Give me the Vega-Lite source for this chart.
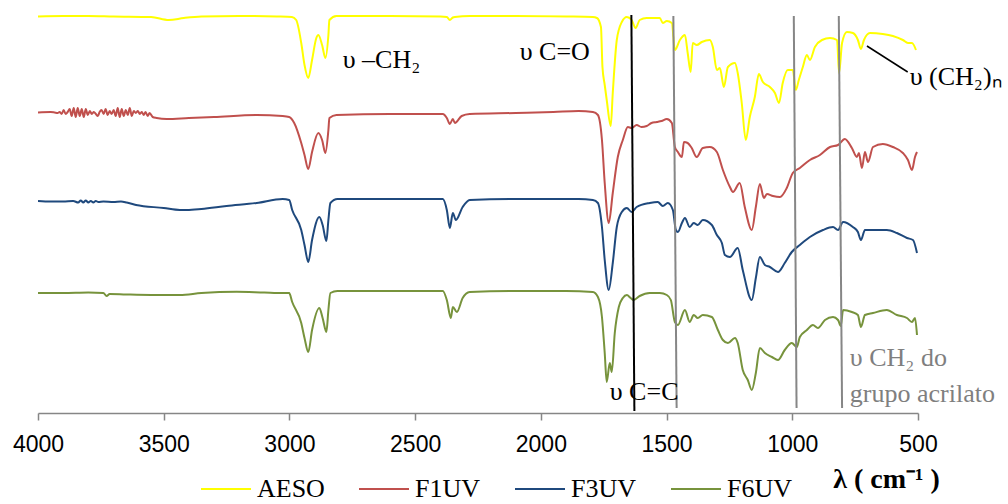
{
  "$schema": "https://vega.github.io/schema/vega-lite/v6.json",
  "width": 880,
  "height": 413,
  "autosize": "none",
  "padding": {"left": 38, "top": 0, "right": 90, "bottom": 91},
  "config": {"view": {"stroke": null}},
  "layer": [
    {
      "data": {"values": [
        {"s":"AESO","x":4000,"y":396.5},{"s":"AESO","x":3900,"y":397},{"s":"AESO","x":3800,"y":397},{"s":"AESO","x":3700,"y":396.5},{"s":"AESO","x":3550,"y":396},{"s":"AESO","x":3480,"y":393},{"s":"AESO","x":3420,"y":395},{"s":"AESO","x":3350,"y":396.5},{"s":"AESO","x":3200,"y":397},{"s":"AESO","x":3050,"y":396.5},{"s":"AESO","x":2990,"y":396},{"s":"AESO","x":2973,"y":393},{"s":"AESO","x":2953,"y":370},{"s":"AESO","x":2940,"y":348},{"s":"AESO","x":2925,"y":335},{"s":"AESO","x":2910,"y":353},{"s":"AESO","x":2893,"y":375},{"s":"AESO","x":2885,"y":378},{"s":"AESO","x":2870,"y":368},{"s":"AESO","x":2857,"y":355},{"s":"AESO","x":2845,"y":378},{"s":"AESO","x":2841,"y":393},{"s":"AESO","x":2813,"y":397},{"s":"AESO","x":2600,"y":397},{"s":"AESO","x":2400,"y":396.5},{"s":"AESO","x":2374,"y":396},{"s":"AESO","x":2362,"y":393},{"s":"AESO","x":2350,"y":395.5},{"s":"AESO","x":2342,"y":396},{"s":"AESO","x":2283,"y":397},{"s":"AESO","x":2100,"y":397},{"s":"AESO","x":1900,"y":396.5},{"s":"AESO","x":1793,"y":396},{"s":"AESO","x":1777,"y":395},{"s":"AESO","x":1761,"y":386},{"s":"AESO","x":1755,"y":346},{"s":"AESO","x":1746,"y":328},{"s":"AESO","x":1738,"y":313},{"s":"AESO","x":1722,"y":287},{"s":"AESO","x":1714,"y":320},{"s":"AESO","x":1698,"y":373},{"s":"AESO","x":1678,"y":391},{"s":"AESO","x":1658,"y":396},{"s":"AESO","x":1639,"y":393},{"s":"AESO","x":1623,"y":385},{"s":"AESO","x":1607,"y":393},{"s":"AESO","x":1579,"y":395},{"s":"AESO","x":1527,"y":395},{"s":"AESO","x":1515,"y":390},{"s":"AESO","x":1499,"y":392},{"s":"AESO","x":1479,"y":390},{"s":"AESO","x":1467,"y":363},{"s":"AESO","x":1447,"y":373},{"s":"AESO","x":1427,"y":378},{"s":"AESO","x":1416,"y":360},{"s":"AESO","x":1404,"y":341},{"s":"AESO","x":1396,"y":370},{"s":"AESO","x":1380,"y":368},{"s":"AESO","x":1360,"y":371},{"s":"AESO","x":1328,"y":373},{"s":"AESO","x":1316,"y":366},{"s":"AESO","x":1300,"y":343},{"s":"AESO","x":1288,"y":345},{"s":"AESO","x":1272,"y":326},{"s":"AESO","x":1256,"y":346},{"s":"AESO","x":1228,"y":350},{"s":"AESO","x":1217,"y":340},{"s":"AESO","x":1201,"y":310},{"s":"AESO","x":1185,"y":273},{"s":"AESO","x":1169,"y":296},{"s":"AESO","x":1149,"y":316},{"s":"AESO","x":1133,"y":339},{"s":"AESO","x":1117,"y":331},{"s":"AESO","x":1089,"y":326},{"s":"AESO","x":1069,"y":320},{"s":"AESO","x":1053,"y":310},{"s":"AESO","x":1038,"y":330},{"s":"AESO","x":1018,"y":343},{"s":"AESO","x":998,"y":343},{"s":"AESO","x":986,"y":323},{"s":"AESO","x":974,"y":333},{"s":"AESO","x":958,"y":346},{"s":"AESO","x":942,"y":358},{"s":"AESO","x":930,"y":353},{"s":"AESO","x":910,"y":366},{"s":"AESO","x":882,"y":373},{"s":"AESO","x":850,"y":375},{"s":"AESO","x":822,"y":373},{"s":"AESO","x":814,"y":340},{"s":"AESO","x":802,"y":370},{"s":"AESO","x":783,"y":381},{"s":"AESO","x":759,"y":380},{"s":"AESO","x":739,"y":373},{"s":"AESO","x":727,"y":364},{"s":"AESO","x":715,"y":373},{"s":"AESO","x":691,"y":380},{"s":"AESO","x":640,"y":379},{"s":"AESO","x":600,"y":377},{"s":"AESO","x":560,"y":373},{"s":"AESO","x":540,"y":370},{"s":"AESO","x":524,"y":370},{"s":"AESO","x":508,"y":363},

        {"s":"F1UV","x":4000,"y":300.5},{"s":"F1UV","x":3950,"y":301},{"s":"F1UV","x":3934,"y":300.5},{"s":"F1UV","x":3922,"y":300},{"s":"F1UV","x":3914,"y":301},{"s":"F1UV","x":3906,"y":299},{"s":"F1UV","x":3898,"y":303},{"s":"F1UV","x":3890,"y":299},{"s":"F1UV","x":3882,"y":301},{"s":"F1UV","x":3874,"y":304},{"s":"F1UV","x":3866,"y":297},{"s":"F1UV","x":3858,"y":305},{"s":"F1UV","x":3850,"y":296},{"s":"F1UV","x":3842,"y":305},{"s":"F1UV","x":3834,"y":297},{"s":"F1UV","x":3826,"y":304},{"s":"F1UV","x":3818,"y":296},{"s":"F1UV","x":3810,"y":304},{"s":"F1UV","x":3802,"y":298},{"s":"F1UV","x":3794,"y":302},{"s":"F1UV","x":3786,"y":299},{"s":"F1UV","x":3778,"y":301},{"s":"F1UV","x":3770,"y":299},{"s":"F1UV","x":3762,"y":297},{"s":"F1UV","x":3755,"y":301},{"s":"F1UV","x":3747,"y":303},{"s":"F1UV","x":3739,"y":299},{"s":"F1UV","x":3731,"y":304},{"s":"F1UV","x":3723,"y":298},{"s":"F1UV","x":3715,"y":302},{"s":"F1UV","x":3707,"y":299},{"s":"F1UV","x":3699,"y":303},{"s":"F1UV","x":3691,"y":297},{"s":"F1UV","x":3683,"y":305},{"s":"F1UV","x":3675,"y":296},{"s":"F1UV","x":3667,"y":304},{"s":"F1UV","x":3659,"y":297},{"s":"F1UV","x":3651,"y":303},{"s":"F1UV","x":3643,"y":298},{"s":"F1UV","x":3635,"y":305},{"s":"F1UV","x":3627,"y":297},{"s":"F1UV","x":3619,"y":302},{"s":"F1UV","x":3611,"y":300},{"s":"F1UV","x":3603,"y":302},{"s":"F1UV","x":3595,"y":299},{"s":"F1UV","x":3587,"y":301},{"s":"F1UV","x":3580,"y":298},{"s":"F1UV","x":3572,"y":301},{"s":"F1UV","x":3564,"y":297},{"s":"F1UV","x":3556,"y":300},{"s":"F1UV","x":3544,"y":296},{"s":"F1UV","x":3528,"y":295},{"s":"F1UV","x":3488,"y":294},{"s":"F1UV","x":3400,"y":295},{"s":"F1UV","x":3300,"y":296},{"s":"F1UV","x":3130,"y":298},{"s":"F1UV","x":3027,"y":297},{"s":"F1UV","x":3001,"y":296},{"s":"F1UV","x":2981,"y":290},{"s":"F1UV","x":2953,"y":270},{"s":"F1UV","x":2940,"y":258},{"s":"F1UV","x":2925,"y":244},{"s":"F1UV","x":2910,"y":261},{"s":"F1UV","x":2885,"y":280},{"s":"F1UV","x":2870,"y":273},{"s":"F1UV","x":2857,"y":260},{"s":"F1UV","x":2845,"y":283},{"s":"F1UV","x":2841,"y":295},{"s":"F1UV","x":2813,"y":298},{"s":"F1UV","x":2600,"y":299},{"s":"F1UV","x":2390,"y":299},{"s":"F1UV","x":2374,"y":295},{"s":"F1UV","x":2362,"y":289},{"s":"F1UV","x":2350,"y":294},{"s":"F1UV","x":2342,"y":290},{"s":"F1UV","x":2315,"y":297},{"s":"F1UV","x":2283,"y":299},{"s":"F1UV","x":2100,"y":300},{"s":"F1UV","x":1950,"y":301},{"s":"F1UV","x":1850,"y":302},{"s":"F1UV","x":1793,"y":301},{"s":"F1UV","x":1773,"y":298},{"s":"F1UV","x":1757,"y":273},{"s":"F1UV","x":1746,"y":230},{"s":"F1UV","x":1730,"y":190},{"s":"F1UV","x":1714,"y":220},{"s":"F1UV","x":1694,"y":256},{"s":"F1UV","x":1674,"y":273},{"s":"F1UV","x":1654,"y":286},{"s":"F1UV","x":1639,"y":285},{"s":"F1UV","x":1619,"y":288},{"s":"F1UV","x":1600,"y":286},{"s":"F1UV","x":1579,"y":287},{"s":"F1UV","x":1560,"y":290},{"s":"F1UV","x":1539,"y":291},{"s":"F1UV","x":1520,"y":292},{"s":"F1UV","x":1499,"y":294},{"s":"F1UV","x":1479,"y":290},{"s":"F1UV","x":1467,"y":266},{"s":"F1UV","x":1455,"y":261},{"s":"F1UV","x":1439,"y":256},{"s":"F1UV","x":1431,"y":271},{"s":"F1UV","x":1416,"y":270},{"s":"F1UV","x":1400,"y":265},{"s":"F1UV","x":1380,"y":256},{"s":"F1UV","x":1356,"y":265},{"s":"F1UV","x":1328,"y":266},{"s":"F1UV","x":1300,"y":261},{"s":"F1UV","x":1276,"y":243},{"s":"F1UV","x":1248,"y":226},{"s":"F1UV","x":1236,"y":221},{"s":"F1UV","x":1209,"y":230},{"s":"F1UV","x":1189,"y":206},{"s":"F1UV","x":1161,"y":183},{"s":"F1UV","x":1145,"y":206},{"s":"F1UV","x":1129,"y":229},{"s":"F1UV","x":1113,"y":215},{"s":"F1UV","x":1101,"y":219},{"s":"F1UV","x":1077,"y":217},{"s":"F1UV","x":1049,"y":216},{"s":"F1UV","x":1022,"y":225},{"s":"F1UV","x":998,"y":240},{"s":"F1UV","x":970,"y":245},{"s":"F1UV","x":930,"y":253},{"s":"F1UV","x":890,"y":258},{"s":"F1UV","x":850,"y":266},{"s":"F1UV","x":818,"y":268},{"s":"F1UV","x":791,"y":274},{"s":"F1UV","x":763,"y":265},{"s":"F1UV","x":743,"y":256},{"s":"F1UV","x":735,"y":260},{"s":"F1UV","x":723,"y":245},{"s":"F1UV","x":711,"y":261},{"s":"F1UV","x":699,"y":251},{"s":"F1UV","x":679,"y":266},{"s":"F1UV","x":640,"y":269},{"s":"F1UV","x":600,"y":266},{"s":"F1UV","x":560,"y":260},{"s":"F1UV","x":540,"y":253},{"s":"F1UV","x":524,"y":243},{"s":"F1UV","x":512,"y":256},{"s":"F1UV","x":504,"y":261},

        {"s":"F3UV","x":4000,"y":212},{"s":"F3UV","x":3950,"y":211.5},{"s":"F3UV","x":3900,"y":211.5},{"s":"F3UV","x":3860,"y":212},{"s":"F3UV","x":3840,"y":210.5},{"s":"F3UV","x":3830,"y":212.5},{"s":"F3UV","x":3820,"y":210.5},{"s":"F3UV","x":3810,"y":212.5},{"s":"F3UV","x":3800,"y":210.5},{"s":"F3UV","x":3790,"y":212},{"s":"F3UV","x":3780,"y":210.5},{"s":"F3UV","x":3770,"y":212},{"s":"F3UV","x":3760,"y":211},{"s":"F3UV","x":3740,"y":211.5},{"s":"F3UV","x":3700,"y":211},{"s":"F3UV","x":3670,"y":211.5},{"s":"F3UV","x":3647,"y":210.5},{"s":"F3UV","x":3610,"y":208},{"s":"F3UV","x":3500,"y":205},{"s":"F3UV","x":3436,"y":203},{"s":"F3UV","x":3408,"y":203},{"s":"F3UV","x":3350,"y":204},{"s":"F3UV","x":3250,"y":207},{"s":"F3UV","x":3130,"y":210},{"s":"F3UV","x":3027,"y":214},{"s":"F3UV","x":3001,"y":213},{"s":"F3UV","x":2989,"y":203},{"s":"F3UV","x":2953,"y":183},{"s":"F3UV","x":2940,"y":168},{"s":"F3UV","x":2925,"y":151},{"s":"F3UV","x":2910,"y":173},{"s":"F3UV","x":2881,"y":196},{"s":"F3UV","x":2868,"y":188},{"s":"F3UV","x":2853,"y":172},{"s":"F3UV","x":2845,"y":193},{"s":"F3UV","x":2837,"y":210},{"s":"F3UV","x":2809,"y":214},{"s":"F3UV","x":2390,"y":214},{"s":"F3UV","x":2374,"y":203},{"s":"F3UV","x":2362,"y":185},{"s":"F3UV","x":2350,"y":200},{"s":"F3UV","x":2338,"y":193},{"s":"F3UV","x":2311,"y":206},{"s":"F3UV","x":2283,"y":213},{"s":"F3UV","x":2100,"y":214},{"s":"F3UV","x":1950,"y":214},{"s":"F3UV","x":1850,"y":214},{"s":"F3UV","x":1793,"y":213},{"s":"F3UV","x":1773,"y":210},{"s":"F3UV","x":1757,"y":186},{"s":"F3UV","x":1746,"y":153},{"s":"F3UV","x":1730,"y":123},{"s":"F3UV","x":1714,"y":150},{"s":"F3UV","x":1698,"y":186},{"s":"F3UV","x":1678,"y":201},{"s":"F3UV","x":1658,"y":205},{"s":"F3UV","x":1639,"y":201},{"s":"F3UV","x":1619,"y":206},{"s":"F3UV","x":1567,"y":210},{"s":"F3UV","x":1535,"y":211},{"s":"F3UV","x":1515,"y":207},{"s":"F3UV","x":1495,"y":210},{"s":"F3UV","x":1475,"y":203},{"s":"F3UV","x":1463,"y":183},{"s":"F3UV","x":1455,"y":181},{"s":"F3UV","x":1439,"y":190},{"s":"F3UV","x":1427,"y":195},{"s":"F3UV","x":1408,"y":186},{"s":"F3UV","x":1392,"y":190},{"s":"F3UV","x":1376,"y":188},{"s":"F3UV","x":1356,"y":193},{"s":"F3UV","x":1320,"y":188},{"s":"F3UV","x":1300,"y":178},{"s":"F3UV","x":1280,"y":170},{"s":"F3UV","x":1268,"y":158},{"s":"F3UV","x":1248,"y":156},{"s":"F3UV","x":1217,"y":165},{"s":"F3UV","x":1197,"y":143},{"s":"F3UV","x":1161,"y":113},{"s":"F3UV","x":1145,"y":135},{"s":"F3UV","x":1129,"y":156},{"s":"F3UV","x":1109,"y":148},{"s":"F3UV","x":1089,"y":146},{"s":"F3UV","x":1057,"y":141},{"s":"F3UV","x":1030,"y":150},{"s":"F3UV","x":1002,"y":161},{"s":"F3UV","x":970,"y":168},{"s":"F3UV","x":930,"y":176},{"s":"F3UV","x":878,"y":183},{"s":"F3UV","x":838,"y":186},{"s":"F3UV","x":818,"y":183},{"s":"F3UV","x":798,"y":191},{"s":"F3UV","x":759,"y":186},{"s":"F3UV","x":739,"y":181},{"s":"F3UV","x":727,"y":173},{"s":"F3UV","x":711,"y":183},{"s":"F3UV","x":663,"y":183},{"s":"F3UV","x":624,"y":183},{"s":"F3UV","x":584,"y":180},{"s":"F3UV","x":544,"y":175},{"s":"F3UV","x":520,"y":173},{"s":"F3UV","x":504,"y":160},

        {"s":"F6UV","x":4000,"y":120},{"s":"F6UV","x":3900,"y":120},{"s":"F6UV","x":3800,"y":120.5},{"s":"F6UV","x":3740,"y":120},{"s":"F6UV","x":3727,"y":117},{"s":"F6UV","x":3715,"y":119},{"s":"F6UV","x":3650,"y":118.5},{"s":"F6UV","x":3550,"y":118},{"s":"F6UV","x":3436,"y":118},{"s":"F6UV","x":3350,"y":120},{"s":"F6UV","x":3210,"y":121.3},{"s":"F6UV","x":3100,"y":120.5},{"s":"F6UV","x":3027,"y":120},{"s":"F6UV","x":3001,"y":120},{"s":"F6UV","x":2989,"y":111},{"s":"F6UV","x":2953,"y":90},{"s":"F6UV","x":2940,"y":75},{"s":"F6UV","x":2925,"y":61},{"s":"F6UV","x":2910,"y":83},{"s":"F6UV","x":2881,"y":105},{"s":"F6UV","x":2868,"y":95},{"s":"F6UV","x":2853,"y":81},{"s":"F6UV","x":2845,"y":103},{"s":"F6UV","x":2837,"y":120},{"s":"F6UV","x":2809,"y":122},{"s":"F6UV","x":2390,"y":122},{"s":"F6UV","x":2374,"y":113},{"s":"F6UV","x":2358,"y":95},{"s":"F6UV","x":2350,"y":106},{"s":"F6UV","x":2334,"y":101},{"s":"F6UV","x":2311,"y":115},{"s":"F6UV","x":2283,"y":121},{"s":"F6UV","x":2100,"y":122},{"s":"F6UV","x":1900,"y":122},{"s":"F6UV","x":1793,"y":121},{"s":"F6UV","x":1773,"y":116},{"s":"F6UV","x":1757,"y":96},{"s":"F6UV","x":1746,"y":60},{"s":"F6UV","x":1738,"y":31},{"s":"F6UV","x":1726,"y":50},{"s":"F6UV","x":1718,"y":41},{"s":"F6UV","x":1706,"y":80},{"s":"F6UV","x":1690,"y":106},{"s":"F6UV","x":1674,"y":115},{"s":"F6UV","x":1658,"y":118},{"s":"F6UV","x":1643,"y":115},{"s":"F6UV","x":1631,"y":113},{"s":"F6UV","x":1607,"y":117},{"s":"F6UV","x":1567,"y":120},{"s":"F6UV","x":1527,"y":120},{"s":"F6UV","x":1499,"y":118},{"s":"F6UV","x":1483,"y":113},{"s":"F6UV","x":1467,"y":91},{"s":"F6UV","x":1455,"y":88},{"s":"F6UV","x":1427,"y":103},{"s":"F6UV","x":1408,"y":91},{"s":"F6UV","x":1392,"y":98},{"s":"F6UV","x":1376,"y":95},{"s":"F6UV","x":1356,"y":98},{"s":"F6UV","x":1320,"y":96},{"s":"F6UV","x":1296,"y":83},{"s":"F6UV","x":1276,"y":73},{"s":"F6UV","x":1256,"y":70},{"s":"F6UV","x":1228,"y":75},{"s":"F6UV","x":1217,"y":70},{"s":"F6UV","x":1197,"y":43},{"s":"F6UV","x":1177,"y":33},{"s":"F6UV","x":1161,"y":23},{"s":"F6UV","x":1145,"y":40},{"s":"F6UV","x":1129,"y":65},{"s":"F6UV","x":1109,"y":60},{"s":"F6UV","x":1081,"y":56},{"s":"F6UV","x":1057,"y":53},{"s":"F6UV","x":1030,"y":63},{"s":"F6UV","x":1002,"y":70},{"s":"F6UV","x":982,"y":66},{"s":"F6UV","x":970,"y":76},{"s":"F6UV","x":942,"y":83},{"s":"F6UV","x":918,"y":88},{"s":"F6UV","x":898,"y":85},{"s":"F6UV","x":870,"y":93},{"s":"F6UV","x":838,"y":96},{"s":"F6UV","x":818,"y":93},{"s":"F6UV","x":807,"y":87},{"s":"F6UV","x":798,"y":103},{"s":"F6UV","x":763,"y":101},{"s":"F6UV","x":739,"y":98},{"s":"F6UV","x":727,"y":86},{"s":"F6UV","x":711,"y":98},{"s":"F6UV","x":679,"y":100},{"s":"F6UV","x":624,"y":103},{"s":"F6UV","x":584,"y":98},{"s":"F6UV","x":544,"y":95},{"s":"F6UV","x":524,"y":91},{"s":"F6UV","x":512,"y":95},{"s":"F6UV","x":504,"y":78}
      ]},
      "mark": {"type": "line", "strokeWidth": 2, "clip": true, "interpolate": "monotone"},
      "encoding": {
        "x": {
          "field": "x", "type": "quantitative",
          "scale": {"domain": [500, 4000], "reverse": true, "nice": false, "zero": false},
          "axis": {
            "values": [4000, 3500, 3000, 2500, 2000, 1500, 1000, 500],
            "format": "d", "grid": false,
            "labelFont": "Liberation Sans", "labelFontSize": 23, "labelColor": "#000000",
            "labelPadding": 13, "labelFlush": false, "labelOverlap": false,
            "domainColor": "#868686", "domainWidth": 1.5,
            "tickColor": "#868686", "tickWidth": 1.5, "tickSize": 7,
            "title": "λ ( cm⁻¹ )",
            "titleFont": "Liberation Serif", "titleFontSize": 28, "titleFontWeight": "bold",
            "titleColor": "#000000", "titleX": 848, "titleY": 66,
            "titleAlign": "center", "titleBaseline": "middle"
          }
        },
        "y": {
          "field": "y", "type": "quantitative",
          "scale": {"domain": [0, 413], "nice": false, "zero": false},
          "axis": null
        },
        "color": {
          "field": "s", "type": "nominal",
          "scale": {"domain": ["AESO", "F1UV", "F3UV", "F6UV"], "range": ["#FFFF00", "#C0504D", "#1F497D", "#77933C"]},
          "legend": {
            "orient": "none", "legendX": 162, "legendY": 463,
            "direction": "horizontal", "title": null,
            "symbolType": "stroke", "symbolSize": 2500, "symbolStrokeWidth": 2,
            "labelFont": "Liberation Serif", "labelFontSize": 26, "labelColor": "#000000",
            "labelOffset": 5, "columnPadding": 30, "padding": 0
          }
        }
      }
    },
    {
      "data": {"values": [{"x": 1640, "x2": 1628, "y": 398, "y2": 2}]},
      "mark": {"type": "rule", "color": "#000000", "strokeWidth": 2},
      "encoding": {
        "x": {"field": "x", "type": "quantitative"},
        "x2": {"field": "x2"},
        "y": {"field": "y", "type": "quantitative"},
        "y2": {"field": "y2"}
      }
    },
    {
      "data": {"values": [
        {"x": 1473, "x2": 1460, "y": 397, "y2": 5},
        {"x": 994, "x2": 983, "y": 397, "y2": 5},
        {"x": 815, "x2": 802, "y": 397, "y2": 5}
      ]},
      "mark": {"type": "rule", "color": "#868686", "strokeWidth": 2},
      "encoding": {
        "x": {"field": "x", "type": "quantitative"},
        "x2": {"field": "x2"},
        "y": {"field": "y", "type": "quantitative"},
        "y2": {"field": "y2"}
      }
    },
    {
      "data": {"values": [{"x": 703, "x2": 541, "y": 367, "y2": 341}]},
      "mark": {"type": "rule", "color": "#000000", "strokeWidth": 1.5},
      "encoding": {
        "x": {"field": "x", "type": "quantitative"},
        "x2": {"field": "x2"},
        "y": {"field": "y", "type": "quantitative"},
        "y2": {"field": "y2"}
      }
    },
    {
      "data": {"values": [
        {"x": 2788, "y": 353, "t": "υ –CH₂"},
        {"x": 2084, "y": 361, "t": "υ C=O"},
        {"x": 533, "y": 336, "t": "υ (CH₂)ₙ"},
        {"x": 1726, "y": 21, "t": "υ C=C"}
      ]},
      "mark": {"type": "text", "font": "Liberation Serif", "fontSize": 26, "color": "#000000", "align": "left", "baseline": "middle"},
      "encoding": {
        "x": {"field": "x", "type": "quantitative"},
        "y": {"field": "y", "type": "quantitative"},
        "text": {"field": "t"}
      }
    },
    {
      "data": {"values": [
        {"x": 771, "y": 55, "t": "υ CH₂  do"},
        {"x": 771, "y": 19, "t": "grupo acrilato"}
      ]},
      "mark": {"type": "text", "font": "Liberation Serif", "fontSize": 26, "color": "#7F7F7F", "align": "left", "baseline": "middle"},
      "encoding": {
        "x": {"field": "x", "type": "quantitative"},
        "y": {"field": "y", "type": "quantitative"},
        "text": {"field": "t"}
      }
    }
  ]
}
